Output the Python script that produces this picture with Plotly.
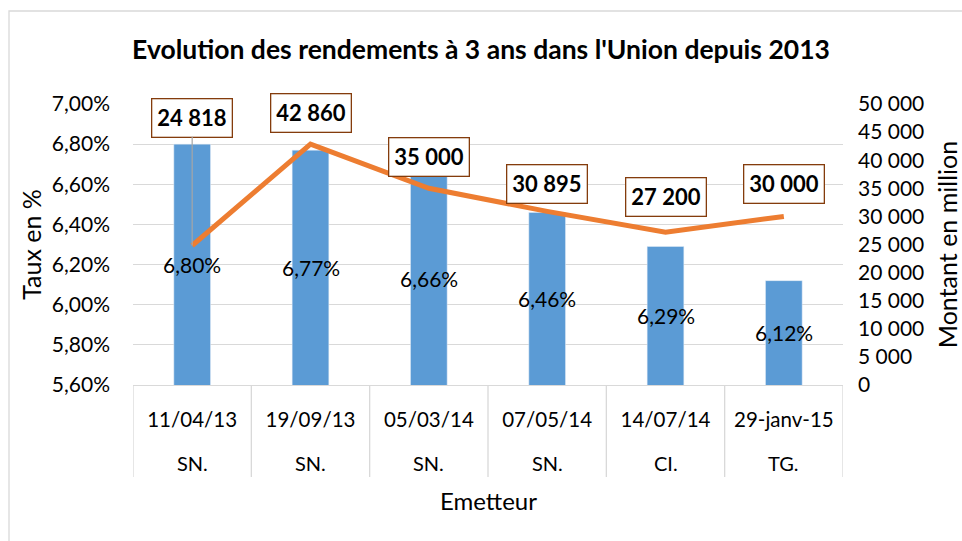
import plotly.graph_objects as go

dates = ["11/04/13", "19/09/13", "05/03/14", "07/05/14", "14/07/14", "29-janv-15"]
issuers = ["SN.", "SN.", "SN.", "SN.", "CI.", "TG."]
rates = [6.80, 6.77, 6.66, 6.46, 6.29, 6.12]
amounts = [24818, 42860, 35000, 30895, 27200, 30000]

FONT = "Lato"
W, H = 962, 541
L, R, T, B = 133, 119, 104, 156
plot_h = H - T - B
Y_MIN, Y_MAX = 5.6, 7.0

def py(px_below_axis):
    return -px_below_axis / plot_h

fig = go.Figure()
fig.add_trace(go.Bar(
    x=dates, y=rates, marker_color="#5B9BD5", width=0.31,
    showlegend=False, hoverinfo="skip"))
fig.add_trace(go.Scatter(
    x=dates, y=amounts, yaxis="y2", mode="lines",
    line=dict(color="#ED7D31", width=5), showlegend=False))

annotations = []
# bar value labels centred in each bar
for d, r in zip(dates, rates):
    annotations.append(dict(x=d, y=(r + Y_MIN) / 2, xref="x", yref="y",
                            text=f"{r:.2f}%".replace(".", ","), showarrow=False,
                            yanchor="middle",
                            font=dict(family=FONT, size=21, color="#000000")))

shifts = [None, 31, 31, 27, 35, 32]
for i, (d, v) in enumerate(zip(dates, amounts)):
    txt = "<b>" + f"{v:,}".replace(",", " ") + "</b>"
    common = dict(x=d, y=v, xref="x", yref="y2", text=txt,
                  font=dict(family=FONT, size=22, color="#000000"),
                  bgcolor="#FFFFFF", bordercolor="#843C0C", borderwidth=1.3,
                  borderpad=5)
    if shifts[i] is None:
        annotations.append(dict(**common, showarrow=True, arrowhead=0,
                                arrowcolor="#A6A6A6", arrowwidth=1.2,
                                ax=0, ay=-128, standoff=0))
    else:
        annotations.append(dict(**common, showarrow=False, yshift=shifts[i]))

for d, c in zip(dates, issuers):
    annotations.append(dict(x=d, y=py(78), xref="x", yref="paper", text=c,
                            showarrow=False, yanchor="middle",
                            font=dict(family=FONT, size=20, color="#000000")))
annotations.append(dict(x=0.5, y=py(115), xref="paper", yref="paper", text="Emetteur",
                        showarrow=False, yanchor="middle",
                        font=dict(family=FONT, size=24, color="#000000")))

shapes = []
for i in range(len(dates) + 1):
    shapes.append(dict(type="line", xref="x", yref="paper", x0=i - 0.5, x1=i - 0.5,
                       y0=0, y1=py(92), line=dict(color="#D9D9D9", width=1.3)))
shapes.append(dict(type="rect", xref="paper", yref="paper",
                   x0=(9 - L) / (W - L - R), x1=(975 - L) / (W - L - R),
                   y0=py(200), y1=1 + (T - 11) / plot_h,
                   line=dict(color="#D9D9D9", width=1.3), fillcolor="rgba(0,0,0,0)"))

fig.update_layout(
    width=W, height=H, margin=dict(l=L, r=R, t=T, b=B, autoexpand=False),
    paper_bgcolor="#FFFFFF", plot_bgcolor="#FFFFFF", separators=", ",
    font=dict(family=FONT, size=20, color="#000000"),
    title=dict(text="<b>Evolution des rendements à 3 ans dans l'Union depuis 2013</b>",
               x=481 / W, xref="container", xanchor="center", y=1 - 50 / H, yanchor="middle",
               font=dict(family=FONT, size=26.5, color="#000000")),
    xaxis=dict(type="category", range=[-0.5, 5.5], showgrid=False, showline=True,
               linecolor="#D9D9D9", linewidth=1.3, ticks="", ticklabelstandoff=16,
               tickfont=dict(family=FONT, size=20.5), automargin=False),
    yaxis=dict(range=[Y_MIN, Y_MAX], dtick=0.2, tick0=5.6, tickformat=".2f", ticksuffix="%",
               showgrid=True, gridcolor="#D9D9D9", gridwidth=1.3, zeroline=False,
               showline=False, ticks="", ticklabelstandoff=22, automargin=False,
               title=dict(text="Taux en %", font=dict(family=FONT, size=25), standoff=3),
               tickfont=dict(family=FONT, size=21)),
    yaxis2=dict(range=[0, 50000], dtick=5000, tick0=0, tickformat=",d", overlaying="y",
                side="right", showgrid=False, zeroline=False, showline=False, ticks="",
                ticklabelstandoff=14, automargin=False,
                title=dict(text="Montant en million", font=dict(family=FONT, size=25), standoff=18),
                tickfont=dict(family=FONT, size=21)),
    annotations=annotations, shapes=shapes,
)
fig.write_html("out.html")
